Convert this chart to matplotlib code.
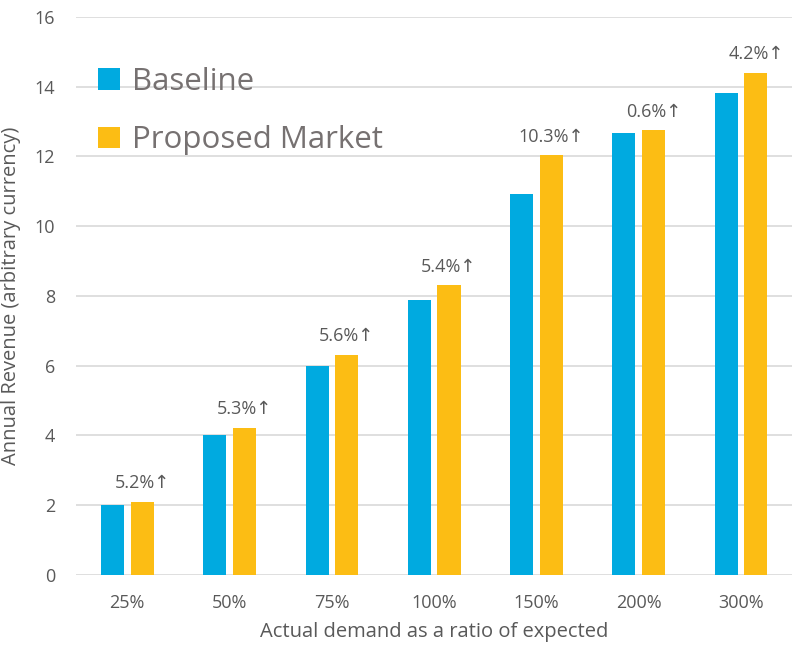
import matplotlib
matplotlib.use("Agg")
import matplotlib.pyplot as plt
import numpy as np

categories = ["25%", "50%", "75%", "100%", "150%", "200%", "300%"]
baseline = [2.00, 4.00, 6.00, 7.88, 10.91, 12.68, 13.81]
proposed = [2.10, 4.21, 6.32, 8.30, 12.03, 12.75, 14.40]
increase_labels = ["5.2%↑", "5.3%↑", "5.6%↑", "5.4%↑", "10.3%↑", "0.6%↑", "4.2%↑"]

plt.rcParams['font.family'] = ['Open Sans', 'DejaVu Sans']

fig = plt.figure(figsize=(7.93, 6.49), dpi=100)
ax = fig.add_axes([0.096, 0.114, 0.903, 0.86])

x = np.arange(len(categories))
w = 0.225
off = 0.145
blue = "#00AAE0"
gold = "#FCBD14"
b1 = ax.bar(x - off, baseline, w, color=blue, label="Baseline", zorder=3)
b2 = ax.bar(x + off, proposed, w, color=gold, label="Proposed Market", zorder=3)

for xi, v, t in zip(x, proposed, increase_labels):
    ax.annotate(t, (xi + off, v), xytext=(0, 7), textcoords="offset points",
                ha="center", va="bottom", fontsize=13, color="#595959")

ax.set_xlim(-0.5, len(categories) - 0.5)
ax.set_ylim(0, 16)
ax.set_yticks(np.arange(0, 17, 2))
ax.set_xticks(x)
ax.set_xticklabels(categories)
ax.grid(axis="y", color="#D9D9D9", linewidth=1.2, zorder=0)
ax.set_axisbelow(True)
for s in ax.spines.values():
    s.set_visible(False)
ax.tick_params(axis="both", length=0, labelsize=13, colors="#595959")
ax.tick_params(axis="x", pad=14)
ax.tick_params(axis="y", pad=15)
ax.set_xlabel("Actual demand as a ratio of expected", fontsize=14.5, color="#595959", labelpad=7)
ax.set_ylabel("Annual Revenue (arbitrary currency)", fontsize=14.5, color="#595959", labelpad=10)

leg = ax.legend(loc="upper left", bbox_to_anchor=(0.0, 0.95), frameon=False,
                fontsize=22.5, handlelength=0.7, handleheight=0.7, handletextpad=0.4,
                labelspacing=0.92, labelcolor="#767171", borderaxespad=0.3)

fig.savefig("out.png", dpi=100)
